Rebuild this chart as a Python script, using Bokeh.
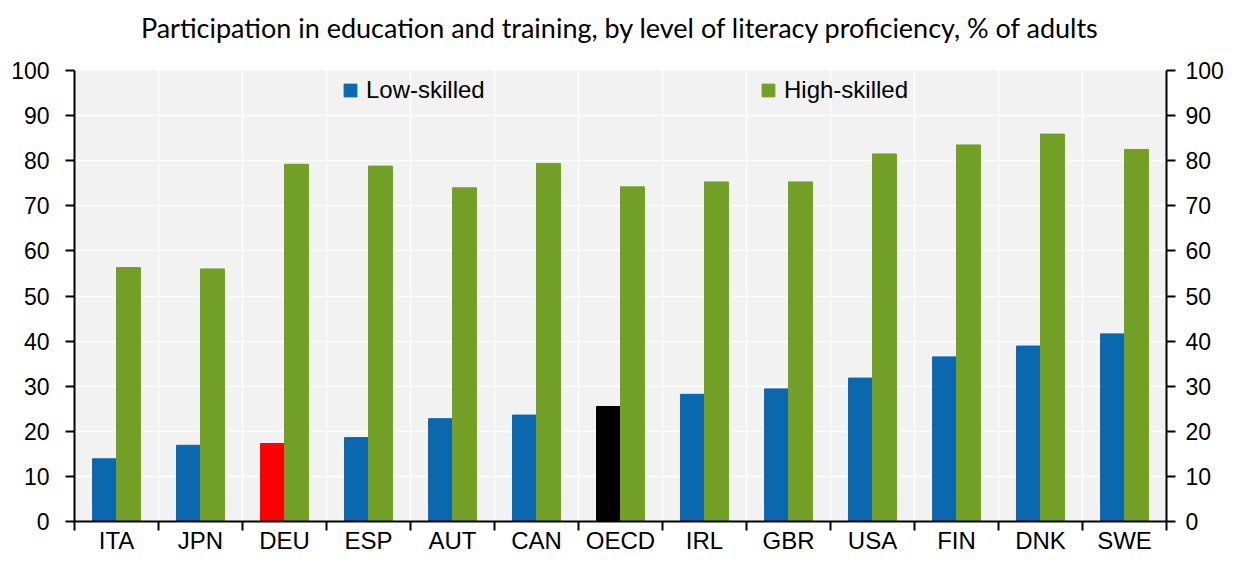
from bokeh.plotting import figure
from bokeh.models import Range1d, LinearAxis, FixedTicker, ColumnDataSource, Legend, LegendItem
from bokeh.transform import dodge
from bokeh.embed import file_html
from bokeh.resources import INLINE

countries = ["ITA", "JPN", "DEU", "ESP", "AUT", "CAN", "OECD", "IRL", "GBR", "USA", "FIN", "DNK", "SWE"]
low_skilled = [13.9, 16.9, 17.3, 18.6, 22.8, 23.6, 25.5, 28.2, 29.4, 31.8, 36.5, 38.9, 41.6]
high_skilled = [56.3, 56.0, 79.2, 78.8, 74.0, 79.4, 74.2, 75.3, 75.3, 81.5, 83.5, 85.9, 82.5]
y_ticks = [0, 10, 20, 30, 40, 50, 60, 70, 80, 90, 100]
title_text = "Participation in education and training, by level of literacy proficiency, % of adults"

BLUE = "#0B67AE"
GREEN = "#72A027"
low_colors = ["#FF0000" if c == "DEU" else "#000000" if c == "OECD" else BLUE for c in countries]
pos = [i + 0.5 for i in range(len(countries))]
bounds = list(range(len(countries) + 1))

src = ColumnDataSource(dict(pos=pos, low=low_skilled, high=high_skilled, lc=low_colors))

FONT = "Liberation Sans"
FS = "24px"
FSY = "23px"

p = figure(width=1226, height=556, output_backend="svg", toolbar_location=None,
           x_range=Range1d(0, len(countries)), y_range=Range1d(0, 100),
           min_border_left=74, min_border_right=58, min_border_top=70, min_border_bottom=33,
           background_fill_color="#F2F2F2", border_fill_color="white", outline_line_color=None)

bw = 0.285
r_low = p.vbar(x=dodge("pos", -bw / 2, range=p.x_range), top="low", width=bw, source=src,
               fill_color="lc", line_color="lc")
r_high = p.vbar(x=dodge("pos", bw / 2, range=p.x_range), top="high", width=bw, source=src,
                fill_color=GREEN, line_color=GREEN)

# x axis (below): labels at centers, tick marks at boundaries
xa = p.below[0]
xa.ticker = FixedTicker(ticks=pos, minor_ticks=bounds)
xa.major_label_overrides = {pp: c for pp, c in zip(pos, countries)}
xa.major_tick_out = 0
xa.major_tick_in = 0
xa.minor_tick_out = 9
xa.minor_tick_in = 0
xa.minor_tick_line_color = "black"
xa.minor_tick_line_width = 2
xa.axis_line_width = 2
xa.axis_line_color = "black"
xa.major_label_text_font = FONT
xa.major_label_text_font_size = FS
xa.major_label_text_color = "black"
xa.major_label_standoff = -4

# title drawn as the label of an invisible top axis
ta = LinearAxis(ticker=FixedTicker(ticks=[], minor_ticks=[]), axis_label=title_text,
                axis_line_color=None, major_tick_line_color=None, minor_tick_line_color=None,
                major_label_text_font_size="0px", major_tick_out=0, minor_tick_out=0,
                major_tick_in=0, minor_tick_in=0,
                major_label_standoff=0, axis_label_standoff=27,
                axis_label_text_font="Lato", axis_label_text_font_size="27px",
                axis_label_text_font_style="normal", axis_label_text_color="black")
p.add_layout(ta, "above")

ya = p.left[0]
ya.ticker = FixedTicker(ticks=y_ticks)
ra = LinearAxis(ticker=FixedTicker(ticks=y_ticks))
p.add_layout(ra, "right")
for ax, so in ((ya, 16), (ra, 10)):
    ax.major_tick_out = 9
    ax.major_tick_in = 0
    ax.minor_tick_out = 0
    ax.minor_tick_in = 0
    ax.axis_line_width = 2
    ax.axis_line_color = "black"
    ax.major_tick_line_width = 2
    ax.major_label_text_font = FONT
    ax.major_label_text_font_size = FSY
    ax.major_label_text_color = "black"
    ax.major_label_standoff = so

p.xgrid.ticker = FixedTicker(ticks=bounds)
p.xgrid.grid_line_color = "white"
p.xgrid.grid_line_width = 1.5
p.ygrid.grid_line_color = "white"
p.ygrid.grid_line_width = 1.5

def mk_legend(label, r, loc):
    lg = Legend(items=[LegendItem(label=label, renderers=[r], index=0)], location=loc,
                border_line_color=None, background_fill_alpha=0, padding=0, margin=0,
                glyph_width=16, glyph_height=16, label_standoff=8,
                label_text_font=FONT, label_text_font_size=FS, label_text_color="black")
    return lg

p.add_layout(mk_legend("Low-skilled", r_low, (268, 417)), "center")
p.add_layout(mk_legend("High-skilled", r_high, (686, 417)), "center")

open("out.html", "w").write(file_html(p, INLINE))
